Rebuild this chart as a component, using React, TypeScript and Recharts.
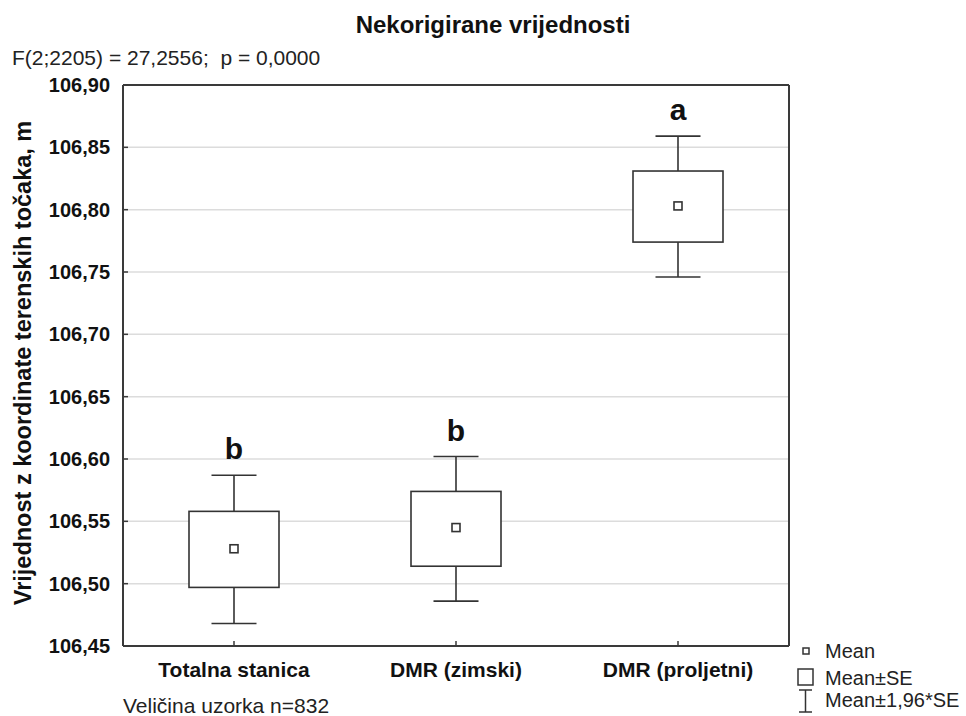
import React from "react";
import {
  ComposedChart,
  Bar,
  XAxis,
  YAxis,
  CartesianGrid,
} from "recharts";

const categories = ["Totalna stanica", "DMR (zimski)", "DMR (proljetni)"];
const means = [106.528, 106.545, 106.803];
const seLow = [106.497, 106.514, 106.774];
const seHigh = [106.558, 106.574, 106.831];
const ciLow = [106.468, 106.486, 106.746];
const ciHigh = [106.587, 106.602, 106.859];
const groupLetters = ["b", "b", "a"];
const yTicks = [106.45, 106.5, 106.55, 106.6, 106.65, 106.7, 106.75, 106.8, 106.85, 106.9];

const FONT = '"Liberation Sans", Arial, sans-serif';
const INK = "#333";

type Row = {
  name: string;
  mean: number;
  seLo: number;
  seHi: number;
  ciLo: number;
  ciHi: number;
  letter: string;
};

const data: Row[] = categories.map((name, i) => ({
  name,
  mean: means[i],
  seLo: seLow[i],
  seHi: seHigh[i],
  ciLo: ciLow[i],
  ciHi: ciHigh[i],
  letter: groupLetters[i],
}));

const fmt = (v: number) => v.toFixed(2).replace(".", ",");

// box + whiskers drawn from the range bar [ciLo, ciHi]
function BoxShape(props: any) {
  const { x, y, width, height, payload } = props;
  if (!payload) return null;
  const top = Math.min(y, y + height);
  const h = Math.abs(height);
  const k = h / (payload.ciHi - payload.ciLo);
  const py = (v: number) => top + (payload.ciHi - v) * k;
  const cx = x + width / 2;
  const cap = width / 4;
  const bTop = py(payload.seHi);
  const bBot = py(payload.seLo);
  const m = py(payload.mean);
  return (
    <g stroke={INK} strokeWidth={1.6} fill="none">
      <line x1={cx} x2={cx} y1={top} y2={bTop} />
      <line x1={cx} x2={cx} y1={bBot} y2={top + h} />
      <line x1={cx - cap} x2={cx + cap} y1={top} y2={top} />
      <line x1={cx - cap} x2={cx + cap} y1={top + h} y2={top + h} />
      <rect x={x} y={bTop} width={width} height={bBot - bTop} fill="#fff" />
      <rect x={cx - 4} y={m - 4} width={8} height={8} fill="#fff" />
      <text
        x={cx}
        y={top - 16}
        textAnchor="middle"
        stroke="none"
        fill="#111"
        fontFamily={FONT}
        fontWeight="bold"
        fontSize={30}
      >
        {payload.letter}
      </text>
    </g>
  );
}

const axisLine = { stroke: "#3a3a3a", strokeWidth: 2 };
const tickLine = { stroke: "#3a3a3a", strokeWidth: 1.5 };

export default function App() {
  return (
    <div style={{ position: "absolute", left: 0, top: 0, width: 966, height: 716, background: "#fff" }}>
      <ComposedChart
        width={966}
        height={716}
        data={data}
        margin={{ top: 84, right: 176, bottom: 30, left: 13 }}
      >
        <CartesianGrid horizontal vertical={false} stroke="#dcdcdc" strokeWidth={1.5} />
        <XAxis
          dataKey="name"
          xAxisId={0}
          height={40}
          axisLine={axisLine}
          tickLine={tickLine}
          tickSize={-5}
          tickMargin={21}
          interval={0}
          tick={{ fontFamily: FONT, fontSize: 21, fontWeight: "bold", fill: "#111" }}
        />
        <XAxis
          dataKey="name"
          xAxisId="top"
          orientation="top"
          height={1}
          axisLine={axisLine}
          tickLine={tickLine}
          tickSize={-5}
          interval={0}
          tick={false}
        />
        <YAxis
          yAxisId={0}
          width={110}
          type="number"
          domain={[106.45, 106.9]}
          ticks={yTicks}
          interval={0}
          allowDataOverflow
          tickFormatter={fmt}
          axisLine={axisLine}
          tickLine={tickLine}
          tickSize={-5}
          tickMargin={18}
          tick={{ fontFamily: FONT, fontSize: 20, fontWeight: "bold", fill: "#111" }}
        />
        <YAxis
          yAxisId="right"
          orientation="right"
          width={1}
          type="number"
          domain={[106.45, 106.9]}
          ticks={yTicks}
          interval={0}
          allowDataOverflow
          axisLine={axisLine}
          tickLine={tickLine}
          tickSize={-5}
          tick={false}
        />
        <Bar
          dataKey={(d: Row) => [d.ciLo, d.ciHi]}
          barSize={90}
          shape={<BoxShape />}
          isAnimationActive={false}
        />
      </ComposedChart>

      <svg
        width={966}
        height={716}
        style={{ position: "absolute", left: 0, top: 0, pointerEvents: "none" }}
        fontFamily={FONT}
      >
        <text x={493} y={33} textAnchor="middle" fontSize={24} fontWeight="bold" fill="#111">
          Nekorigirane vrijednosti
        </text>
        <text x={12} y={65} fontSize={21} fill="#222">
          {"F(2;2205) = 27,2556;\u00a0 p = 0,0000"}
        </text>
        <text
          x={31}
          y={363}
          transform="rotate(-90 31 363)"
          textAnchor="middle"
          fontSize={23.5}
          fontWeight="bold"
          fill="#111"
        >
          Vrijednost z koordinate terenskih točaka, m
        </text>
        <text x={123} y={713} fontSize={21} fill="#222">
          Veličina uzorka n=832
        </text>

        {/* legend */}
        <g stroke={INK} strokeWidth={1.5} fill="#fff">
          <rect x={803} y={648} width={6} height={6} />
          <rect x={798} y={669} width={15} height={16} />
          <line x1={805.5} x2={805.5} y1={690} y2={712} />
          <line x1={799} x2={812} y1={690} y2={690} />
          <line x1={799} x2={812} y1={712} y2={712} />
        </g>
        <g fontSize={20} fill="#222">
          <text x={825} y={658}>Mean</text>
          <text x={825} y={685}>Mean±SE</text>
          <text x={825} y={707}>Mean±1,96*SE</text>
        </g>
      </svg>
    </div>
  );
}
